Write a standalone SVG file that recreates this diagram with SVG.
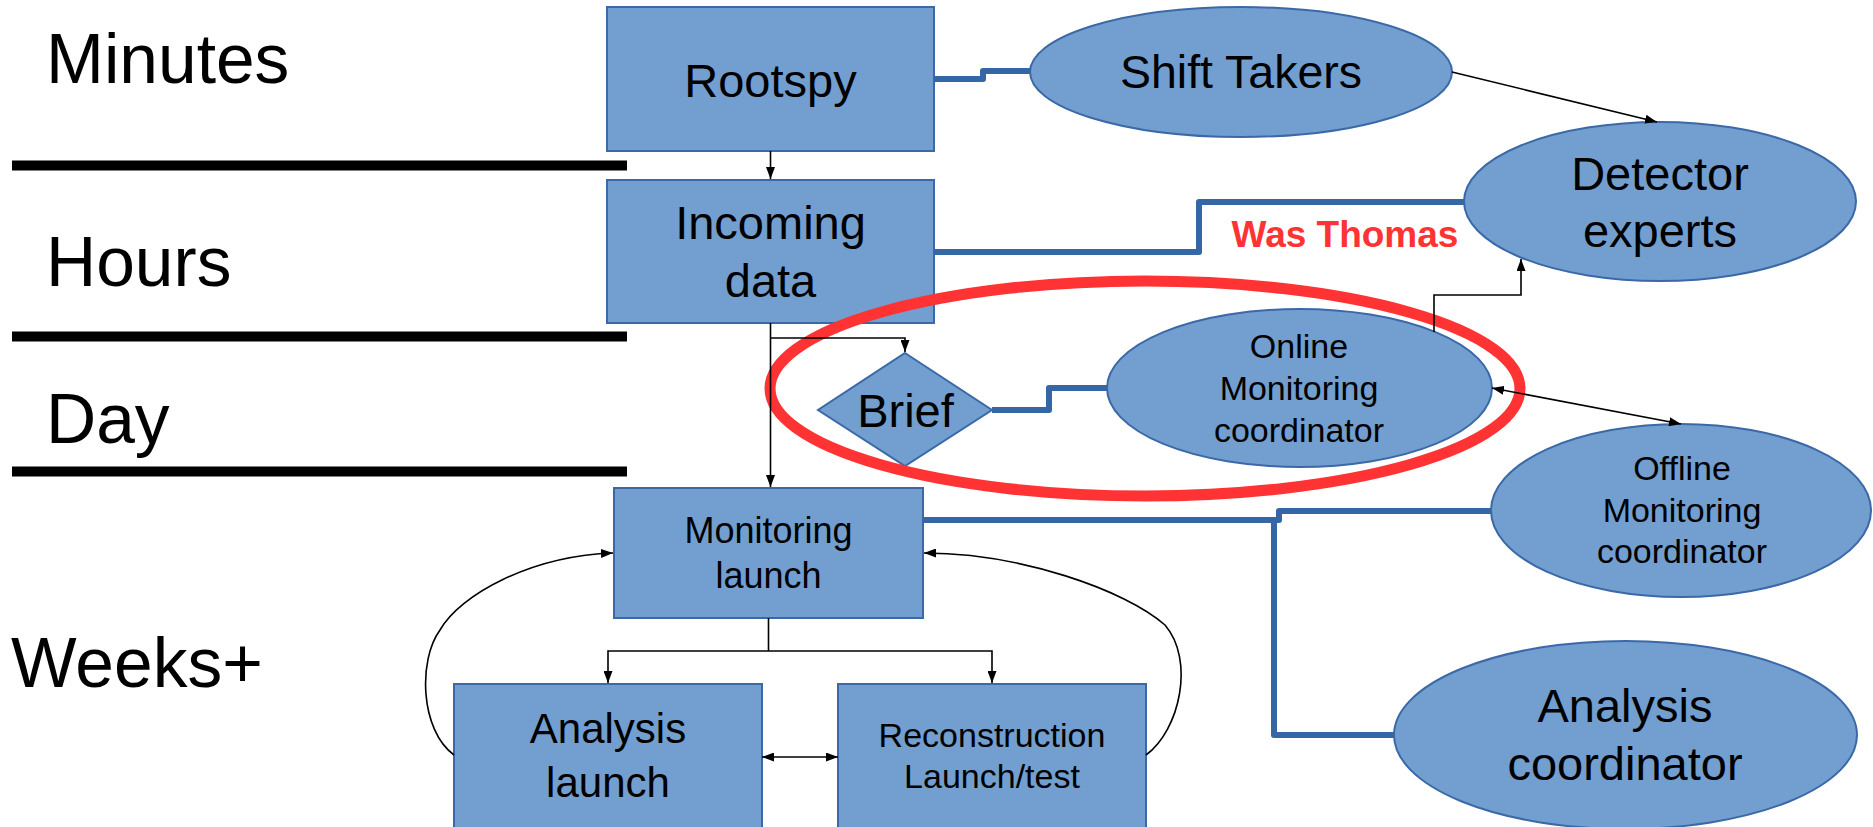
<svg xmlns="http://www.w3.org/2000/svg" width="1873" height="827" viewBox="0 0 1873 827">
<style>
  .n { fill: #729fcf; stroke: #3b69a8; stroke-width: 2; }
  .t { font-family: "Liberation Sans", Arial, sans-serif; fill: #000; text-anchor: middle; }
  .lbl { font-family: "Liberation Sans", Arial, sans-serif; fill: #000; font-size: 69.5px; }
  .bar { stroke: #000; stroke-width: 10; }
  .thin { fill: none; stroke: #000; stroke-width: 1.6; }
  .thick { fill: none; stroke: #3566a6; stroke-width: 6; stroke-linejoin: round; }
</style>
<defs>
  <marker id="ah" viewBox="0 0 12 9" refX="12" refY="4.5" markerWidth="12" markerHeight="9" markerUnits="userSpaceOnUse" orient="auto-start-reverse">
    <path d="M0,0 L12,4.5 L0,9 z" fill="#000"/>
  </marker>
</defs>
<rect width="1873" height="827" fill="#fff"/>

<g id="timescale">
  <line class="bar" x1="12" y1="165.5" x2="627" y2="165.5"/>
  <line class="bar" x1="12" y1="336.5" x2="627" y2="336.5"/>
  <line class="bar" x1="12" y1="471.5" x2="627" y2="471.5"/>
  <text class="lbl" x="46" y="83">Minutes</text>
  <text class="lbl" x="46" y="286">Hours</text>
  <text class="lbl" x="46" y="443">Day</text>
  <text class="lbl" x="11" y="687">Weeks+</text>
</g>

<g id="rootspy">
  <rect class="n" x="607" y="7" width="327" height="144"/>
  <text class="t" x="770.5" y="97" font-size="47">Rootspy</text>
</g>
<g id="incoming">
  <rect class="n" x="607" y="180" width="327" height="143"/>
  <text class="t" x="770.5" y="239" font-size="47">Incoming</text>
  <text class="t" x="770.5" y="297" font-size="47">data</text>
</g>
<g id="shift-takers">
  <ellipse class="n" cx="1241" cy="72" rx="211" ry="65"/>
  <text class="t" x="1241" y="88" font-size="46.5">Shift Takers</text>
</g>
<g id="detector-experts">
  <ellipse class="n" cx="1660" cy="201.5" rx="196" ry="79.5"/>
  <text class="t" x="1660" y="190" font-size="47">Detector</text>
  <text class="t" x="1660" y="247" font-size="47">experts</text>
</g>
<g id="brief">
  <polygon class="n" points="905,353 992,410 905,466 818,410"/>
  <text class="t" x="905.5" y="427" font-size="47">Brief</text>
</g>
<g id="online-monitoring">
  <ellipse class="n" cx="1299.5" cy="388" rx="192.5" ry="79"/>
  <text class="t" x="1299" y="358" font-size="34">Online</text>
  <text class="t" x="1299" y="400" font-size="34">Monitoring</text>
  <text class="t" x="1299" y="442" font-size="34">coordinator</text>
</g>
<g id="offline-monitoring">
  <ellipse class="n" cx="1681" cy="510.5" rx="190" ry="86.5"/>
  <text class="t" x="1682" y="480" font-size="34">Offline</text>
  <text class="t" x="1682" y="522" font-size="34">Monitoring</text>
  <text class="t" x="1682" y="563" font-size="34">coordinator</text>
</g>
<g id="monitoring-launch">
  <rect class="n" x="614" y="488" width="309" height="130"/>
  <text class="t" x="768.5" y="543" font-size="36">Monitoring</text>
  <text class="t" x="768.5" y="588" font-size="36">launch</text>
</g>
<g id="analysis-launch">
  <rect class="n" x="454" y="684" width="308" height="150"/>
  <text class="t" x="608" y="743" font-size="42">Analysis</text>
  <text class="t" x="608" y="797" font-size="42">launch</text>
</g>
<g id="reconstruction">
  <rect class="n" x="838" y="684" width="308" height="150"/>
  <text class="t" x="992" y="747" font-size="34">Reconstruction</text>
  <text class="t" x="992" y="788" font-size="34">Launch/test</text>
</g>
<g id="analysis-coordinator">
  <ellipse class="n" cx="1625.5" cy="735" rx="231.5" ry="94"/>
  <text class="t" x="1625" y="722" font-size="47">Analysis</text>
  <text class="t" x="1625" y="780" font-size="47">coordinator</text>
</g>

<g id="highlight">
  <ellipse cx="1145" cy="388.5" rx="375" ry="107.5" fill="none" stroke="#ff3333" stroke-width="11"/>
  <text x="1345" y="247" font-family="'Liberation Sans', Arial, sans-serif" font-weight="bold" font-size="37" fill="#ff3333" text-anchor="middle">Was Thomas</text>
</g>

<g id="connectors">
  <path class="thick" d="M934,79 H983 V71 H1030"/>
  <path class="thick" d="M934,252 H1199 V202 H1464"/>
  <path class="thick" d="M992,410 H1049 V388 H1107"/>
  <path class="thick" d="M923,520 H1279 V511 H1491"/>
  <path class="thick" d="M1274,520 V735 H1394"/>

  <path class="thin" d="M770.5,151 V179" marker-end="url(#ah)"/>
  <path class="thin" d="M770.5,323 V487" marker-end="url(#ah)"/>
  <path class="thin" d="M770.5,338 H905 V352" marker-end="url(#ah)"/>
  <path class="thin" d="M1452,72 L1657,122" marker-end="url(#ah)"/>
  <path class="thin" d="M1434,332 V295 H1521 V259" marker-end="url(#ah)"/>
  <path class="thin" d="M1492,388 L1681,424" marker-start="url(#ah)" marker-end="url(#ah)"/>
  <path class="thin" d="M768.5,618 V651"/>
  <path class="thin" d="M608,683 V651 H992 V683" marker-start="url(#ah)" marker-end="url(#ah)"/>
  <path class="thin" d="M762,757 H838" marker-start="url(#ah)" marker-end="url(#ah)"/>
  <path class="thin" d="M454,755 C420,730 418,660 440,630 C460,595 530,556 613,553" marker-end="url(#ah)"/>
  <path class="thin" d="M1146,755 C1180,730 1195,660 1165,625 C1125,590 1020,553 924,553" marker-end="url(#ah)"/>
</g>
</svg>
